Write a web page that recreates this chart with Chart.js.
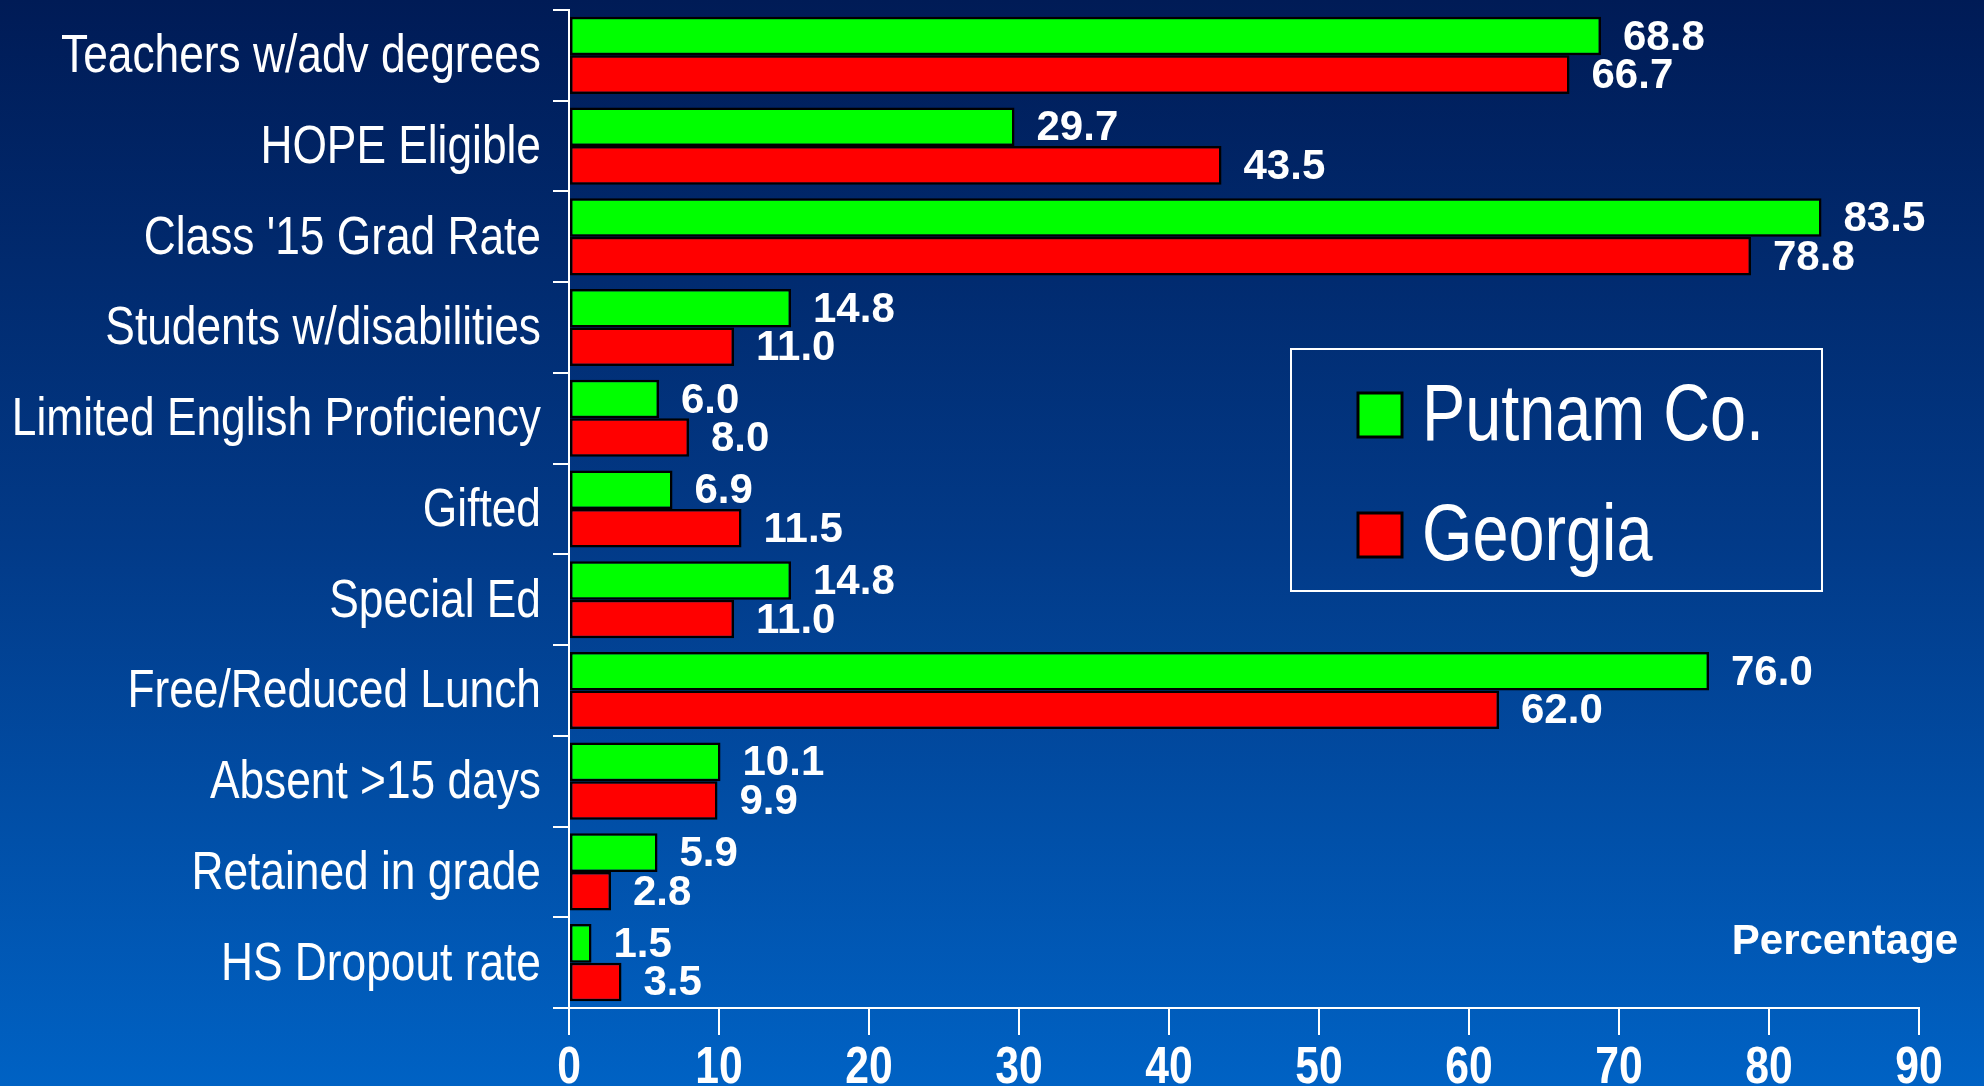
<!DOCTYPE html>
<html>
<head>
<meta charset="utf-8">
<script src="https://cdn.jsdelivr.net/npm/chart.js@4/dist/chart.umd.min.js"></script>
<style>
  html, body { margin: 0; padding: 0; }
  body { width: 1984px; height: 1086px; overflow: hidden;
         background: linear-gradient(to bottom, #001b56 0%, #023a88 50%, #0062c4 100%); }
  canvas { display: block; }
</style>
</head>
<body>
<canvas id="c" width="1984" height="1086"></canvas>
<script>
const categories = [
  "Teachers w/adv degrees",
  "HOPE Eligible",
  "Class '15 Grad Rate",
  "Students w/disabilities",
  "Limited English Proficiency",
  "Gifted",
  "Special Ed",
  "Free/Reduced Lunch",
  "Absent >15 days",
  "Retained in grade",
  "HS Dropout rate"
];
const putnamValues  = [68.8, 29.7, 83.5, 14.8, 6.0, 6.9, 14.8, 76.0, 10.1, 5.9, 1.5];
const georgiaValues = [66.7, 43.5, 78.8, 11.0, 8.0, 11.5, 11.0, 62.0, 9.9, 2.8, 3.5];
const seriesNames = ["Putnam Co.", "Georgia"];
const xTicks = [0, 10, 20, 30, 40, 50, 60, 70, 80, 90];
const axisTitle = "Percentage";

const SANS = "'Liberation Sans', Arial, sans-serif";
const NARROW_SCALE = 0.82;

// draw text horizontally condensed (Arial Narrow look)
function narrowText(ctx, text, x, y, align) {
  ctx.save();
  ctx.translate(x, y);
  ctx.scale(NARROW_SCALE, 1);
  ctx.textAlign = align;
  ctx.fillText(text, 0, 0);
  ctx.restore();
}

const axisLabels = {
  id: 'axisLabels',
  afterDraw(chart) {
    const ctx = chart.ctx;
    const ys = chart.scales.y, xs = chart.scales.x;
    ctx.save();
    ctx.fillStyle = '#ffffff';
    ctx.textBaseline = 'middle';
    ctx.font = "54px " + SANS;
    ys.getLabels().forEach((lab, i) => {
      narrowText(ctx, lab, ys.right - 28, ys.getPixelForTick(i) + 2, 'right');
    });
    ctx.font = "bold 52px " + SANS;
    xs.ticks.forEach((t, i) => {
      narrowText(ctx, String(t.value), xs.getPixelForTick(i), xs.top + 61, 'center');
    });
    ctx.restore();
  }
};

const valueLabels = {
  id: 'valueLabels',
  afterDatasetsDraw(chart) {
    const ctx = chart.ctx;
    ctx.save();
    ctx.fillStyle = '#ffffff';
    ctx.font = "bold 42px " + SANS;
    ctx.textAlign = 'left';
    ctx.textBaseline = 'middle';
    chart.data.datasets.forEach((ds, i) => {
      const meta = chart.getDatasetMeta(i);
      meta.data.forEach((el, j) => {
        ctx.fillText(Number(ds.data[j]).toFixed(1), el.x + 22, el.y + 2);
      });
    });
    ctx.restore();
  }
};

const boxLegend = {
  id: 'boxLegend',
  afterDraw(chart) {
    const ctx = chart.ctx;
    ctx.save();
    ctx.strokeStyle = '#ffffff';
    ctx.lineWidth = 2;
    ctx.strokeRect(1291, 349, 531, 242);
    ctx.font = "79px " + SANS;
    ctx.textBaseline = 'middle';
    chart.data.datasets.forEach((ds, i) => {
      const cy = 415 + i * 120;
      ctx.fillStyle = ds.backgroundColor;
      ctx.fillRect(1358, cy - 22, 44, 44);
      ctx.strokeStyle = '#000000';
      ctx.lineWidth = 3;
      ctx.strokeRect(1358, cy - 22, 44, 44);
      ctx.fillStyle = '#ffffff';
      narrowText(ctx, ds.label, 1422, cy + 3, 'left');
    });
    ctx.font = "bold 42px " + SANS;
    ctx.textAlign = 'center';
    ctx.fillText(axisTitle, 1845, 942);
    ctx.restore();
  }
};

new Chart(document.getElementById('c'), {
  type: 'bar',
  data: {
    labels: categories,
    datasets: [
      { label: seriesNames[0], data: putnamValues, backgroundColor: '#00ff00',
        borderColor: '#000000', borderWidth: 2.5, borderSkipped: false },
      { label: seriesNames[1], data: georgiaValues, backgroundColor: '#ff0000',
        borderColor: '#000000', borderWidth: 2.5, borderSkipped: false }
    ]
  },
  options: {
    indexAxis: 'y',
    responsive: false,
    animation: false,
    devicePixelRatio: 1,
    layout: { padding: { top: 10, right: 65, left: 0, bottom: 0 } },
    datasets: { bar: { categoryPercentage: 0.85, barPercentage: 1.0 } },
    plugins: { legend: { display: false }, tooltip: { enabled: false } },
    scales: {
      y: {
        type: 'category',
        afterFit(s) { s.width = 569; s.paddingTop = 0; s.paddingBottom = 0; },
        border: { display: true, color: '#ffffff', width: 2 },
        grid: { drawOnChartArea: false, drawTicks: true, tickLength: 16, color: '#ffffff', lineWidth: 2, offset: true },
        ticks: { display: false }
      },
      x: {
        min: 0, max: 90,
        afterFit(s) { s.height = 78; s.paddingLeft = 0; s.paddingRight = 0; },
        afterBuildTicks(s) { s.ticks = xTicks.map(v => ({ value: v })); },
        border: { display: true, color: '#ffffff', width: 2 },
        grid: { drawOnChartArea: false, drawTicks: true, tickLength: 27, color: '#ffffff', lineWidth: 2 },
        ticks: { display: false }
      }
    }
  },
  plugins: [valueLabels, axisLabels, boxLegend]
});
</script>
</body>
</html>
